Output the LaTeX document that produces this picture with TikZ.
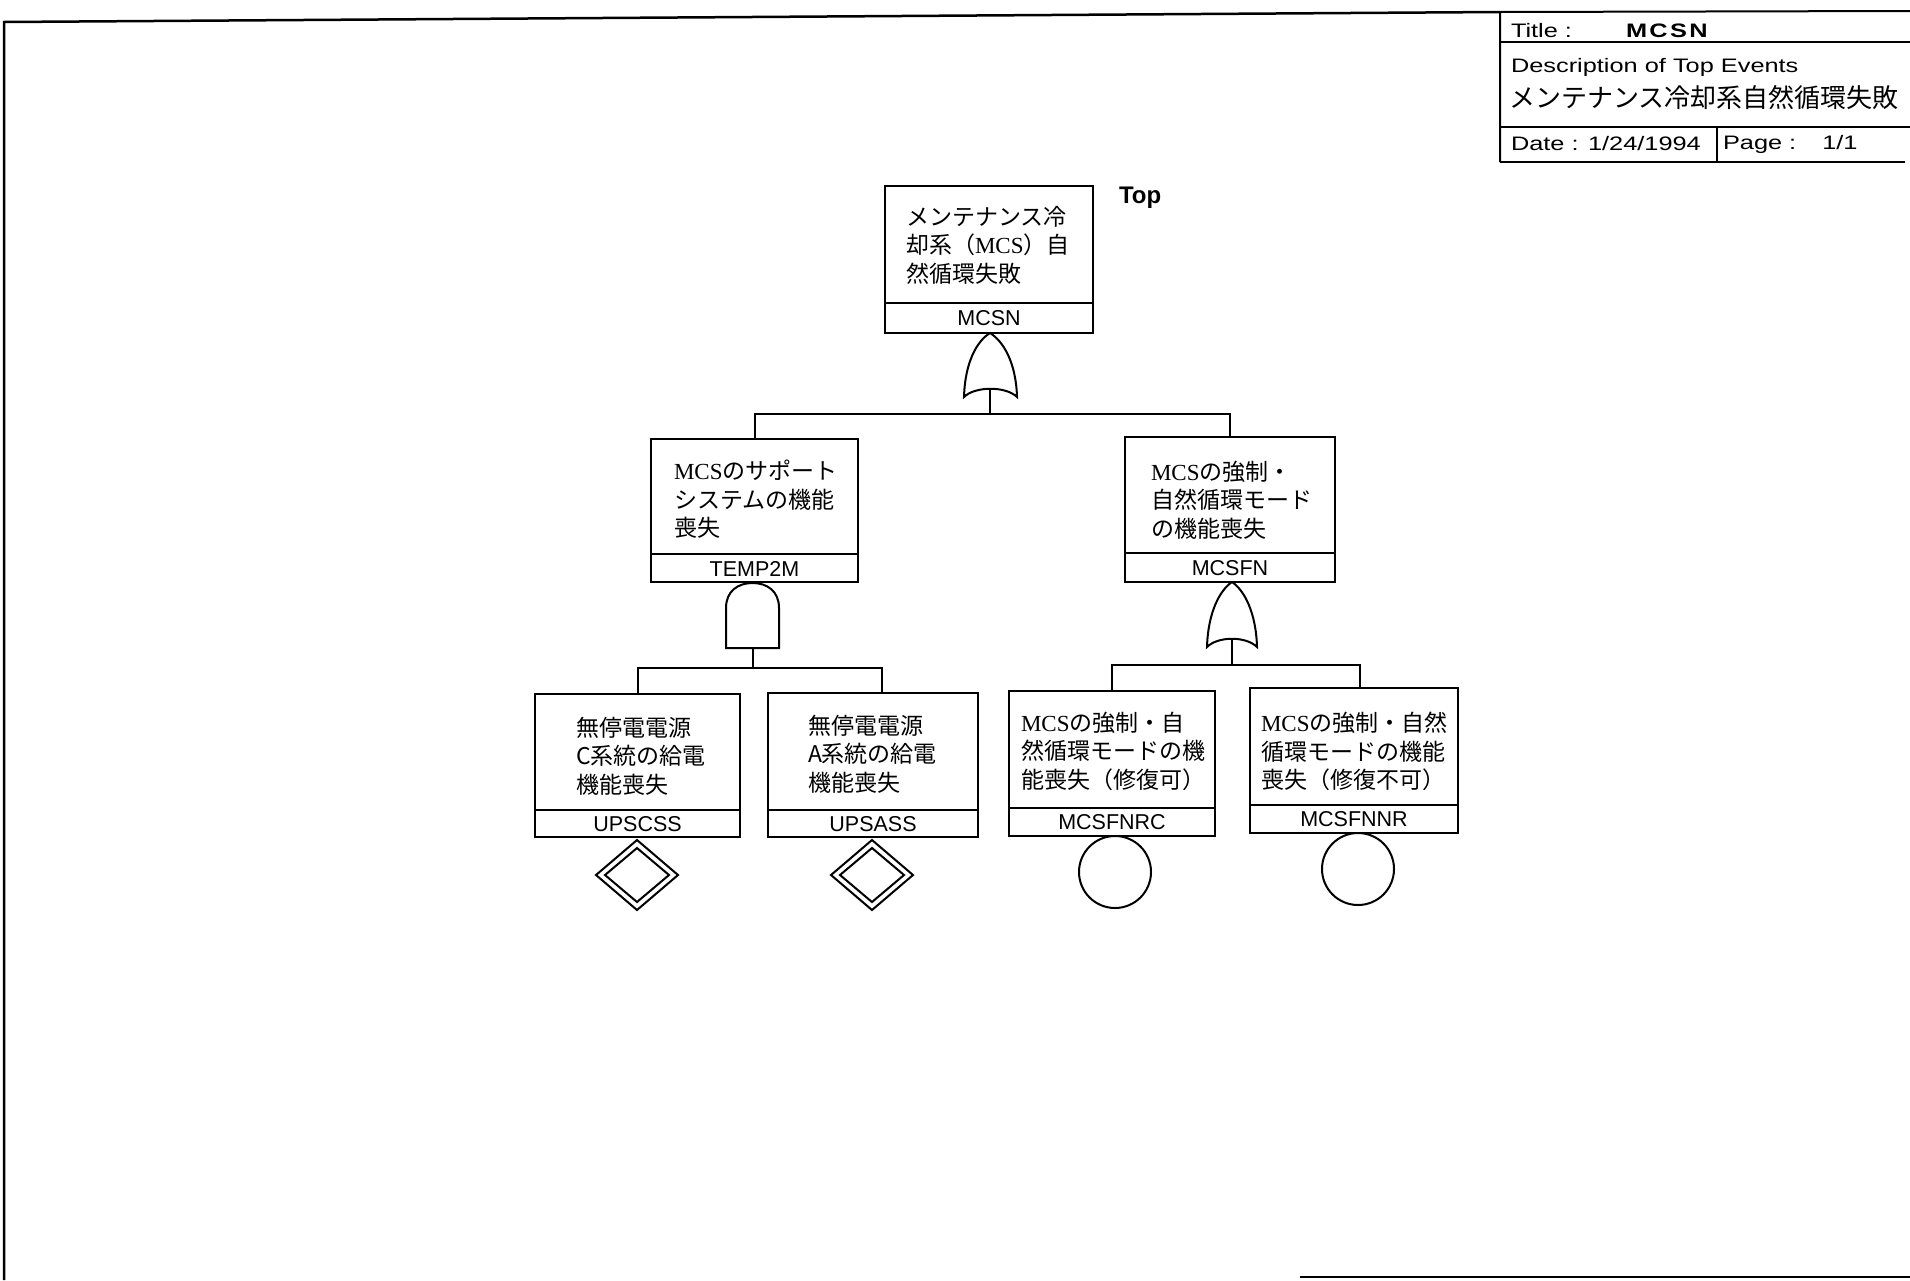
\documentclass[tikz,border=0pt]{standalone}
\usepackage{fontspec}
\setmainfont{Liberation Sans}
\newfontfamily\jp{Noto Sans CJK JP}
\newfontfamily\ser{Liberation Serif}
\newfontfamily\wide{Liberation Sans}[FakeStretch=1.3]
\newfontfamily\widesp{Liberation Sans}[FakeStretch=1.3,LetterSpace=12]
\newcommand\mcsw{{\ser MCS}}
\newcommand\evbox[6]{% name, x1, x2, y1, ydiv, y2
  \node[box, minimum width={#3-#2}, minimum height={#6-#4}] (#1) at ({(#2+#3)/2},{(#4+#6)/2}) {};
  \draw (#2,#5) -- (#3,#5);}
\begin{document}
\begin{tikzpicture}[x=1pt,y=-1pt,line width=2pt,
  box/.style={draw, rectangle, inner sep=0pt, outer sep=0pt},
  jtxt/.style={anchor=north west, inner sep=0pt, align=left, font=\jp\fontsize{23}{28.5}\selectfont},
  code/.style={inner sep=0pt, font=\fontsize{21.5}{24}\selectfont},
  ttext/.style={anchor=west, inner sep=0pt, font=\wide\fontsize{19.5}{22}\selectfont},
  basic/.style={draw, circle, inner sep=0pt, outer sep=0pt, minimum size=72pt}]
\useasboundingbox (0,0) rectangle (1910,1280);
% page frame
\draw[line width=2.5pt] (4,1280) -- (4,22) -- (1500,12);
\draw[line width=2.5pt] (1300,1277) -- (1910,1277);
% title block
\draw (1500,162) -- (1500,12) -- (1910,11);
\draw (1500,42) -- (1910,42);
\draw (1500,127) -- (1910,127);
\draw (1500,162) -- (1905,162);
\draw (1717,127) -- (1717,162);
\node[ttext] (tl) at (1510,31) {Title :};
\node[ttext, font=\widesp\bfseries\fontsize{19.5}{22}\selectfont] (tv) at (1625,31) {MCSN};
\node[ttext] (dl) at (1510,67) {Description of Top Events};
\node[anchor=west, inner sep=0pt, font=\jp\fontsize{26}{30}\selectfont] (dj) at (1508,98) {メンテナンス冷却系自然循環失敗};
\node[ttext] (dt) at (1510,144) {Date : 1/24/1994};
\node[ttext] (pg) at (1722,144) {Page :\hspace{26pt}1/1};
% event boxes
\evbox{top}{885}{1093}{186}{303}{333}
\evbox{temp}{651}{858}{439}{554}{582}
\evbox{mcsfn}{1125}{1335}{437}{553}{582}
\evbox{upscss}{535}{740}{694}{810}{837}
\evbox{upsass}{768}{978}{693}{810}{837}
\evbox{nrc}{1009}{1215}{691}{808}{836}
\evbox{nnr}{1250}{1458}{688}{805}{833}
% texts
\node[jtxt] (toptx) at (905,205) {メンテナンス冷\\却系（\mcsw）自\\然循環失敗};
\node[jtxt] (temptx) at (673,459) {\mcsw のサポート\\システムの機能\\喪失};
\node[jtxt] (mcsfntx) at (1150,460) {\mcsw の強制・\\自然循環モード\\の機能喪失};
\node[jtxt] (upscsstx) at (575,716) {無停電電源\\C系統の給電\\機能喪失};
\node[jtxt] (upsasstx) at (807,714) {無停電電源\\A系統の給電\\機能喪失};
\node[jtxt] (nrctx) at (1020,711) {\mcsw の強制・自\\然循環モードの機\\能喪失（修復可）};
\node[jtxt] (nnrtx) at (1260,711) {\mcsw の強制・自然\\循環モードの機能\\喪失（修復不可）};
\node[code] (topc) at (989,318.5) {MCSN};
\node[code] (tempc) at (754.5,568.5) {TEMP2M};
\node[code] (mcsfnc) at (1230,568) {MCSFN};
\node[code] (upscssc) at (637.5,824) {UPSCSS};
\node[code] (upsassc) at (873,824) {UPSASS};
\node[code] (nrcc) at (1112,822.5) {MCSFNRC};
\node[code] (nnrc) at (1354,819.5) {MCSFNNR};
\node[anchor=west, inner sep=0pt, font=\bfseries\fontsize{24}{27}\selectfont] (toplbl) at (1118,198) {Top};
% gates
\draw (964,397) .. controls (965,362) and (977,341) .. (990,333) .. controls (1003,341) and (1016,362) .. (1017,397) .. controls (1006,386) and (975,386) .. (964,397) -- cycle;
\coordinate (or1out) at (990,389);
\draw (726,648) -- (726,608) .. controls (726,591) and (738,583) .. (752.5,583) .. controls (767,583) and (779,591) .. (779,608) -- (779,648) -- cycle;
\coordinate (andout) at (752.5,648);
\draw (1207,647) .. controls (1208,612) and (1220,590) .. (1232,582) .. controls (1244,590) and (1256,612) .. (1257,647) .. controls (1246,636) and (1218,636) .. (1207,647) -- cycle;
\coordinate (or2out) at (1232,639);
% connectors
\coordinate (j1) at (990,414);
\draw (or1out) -- (j1);
\draw (temp.north) |- (j1) -| (mcsfn.north);
\coordinate (j2) at (752.5,668);
\draw (andout) -- (j2);
\draw (upscss.north) |- (j2) -| ([xshift=9pt]upsass.north);
\coordinate (j3) at (1232,665);
\draw (or2out) -- (j3);
\draw (nrc.north) |- (j3) -| ([xshift=6pt]nnr.north);
% undeveloped events (double diamonds)
\coordinate (d1) at (637,875);
\coordinate (d2) at (872,875);
\foreach \d in {d1,d2}{
  \draw (\d) ++(-41,0) -- ++(41,-35) -- ++(41,35) -- ++(-41,35) -- cycle;
  \draw (\d) ++(-32,0) -- ++(32,-27) -- ++(32,27) -- ++(-32,27) -- cycle;}
% basic events
\node[basic] (c1) at (1115,872) {};
\node[basic] (c2) at (1358,869) {};
\end{tikzpicture}
\end{document}
